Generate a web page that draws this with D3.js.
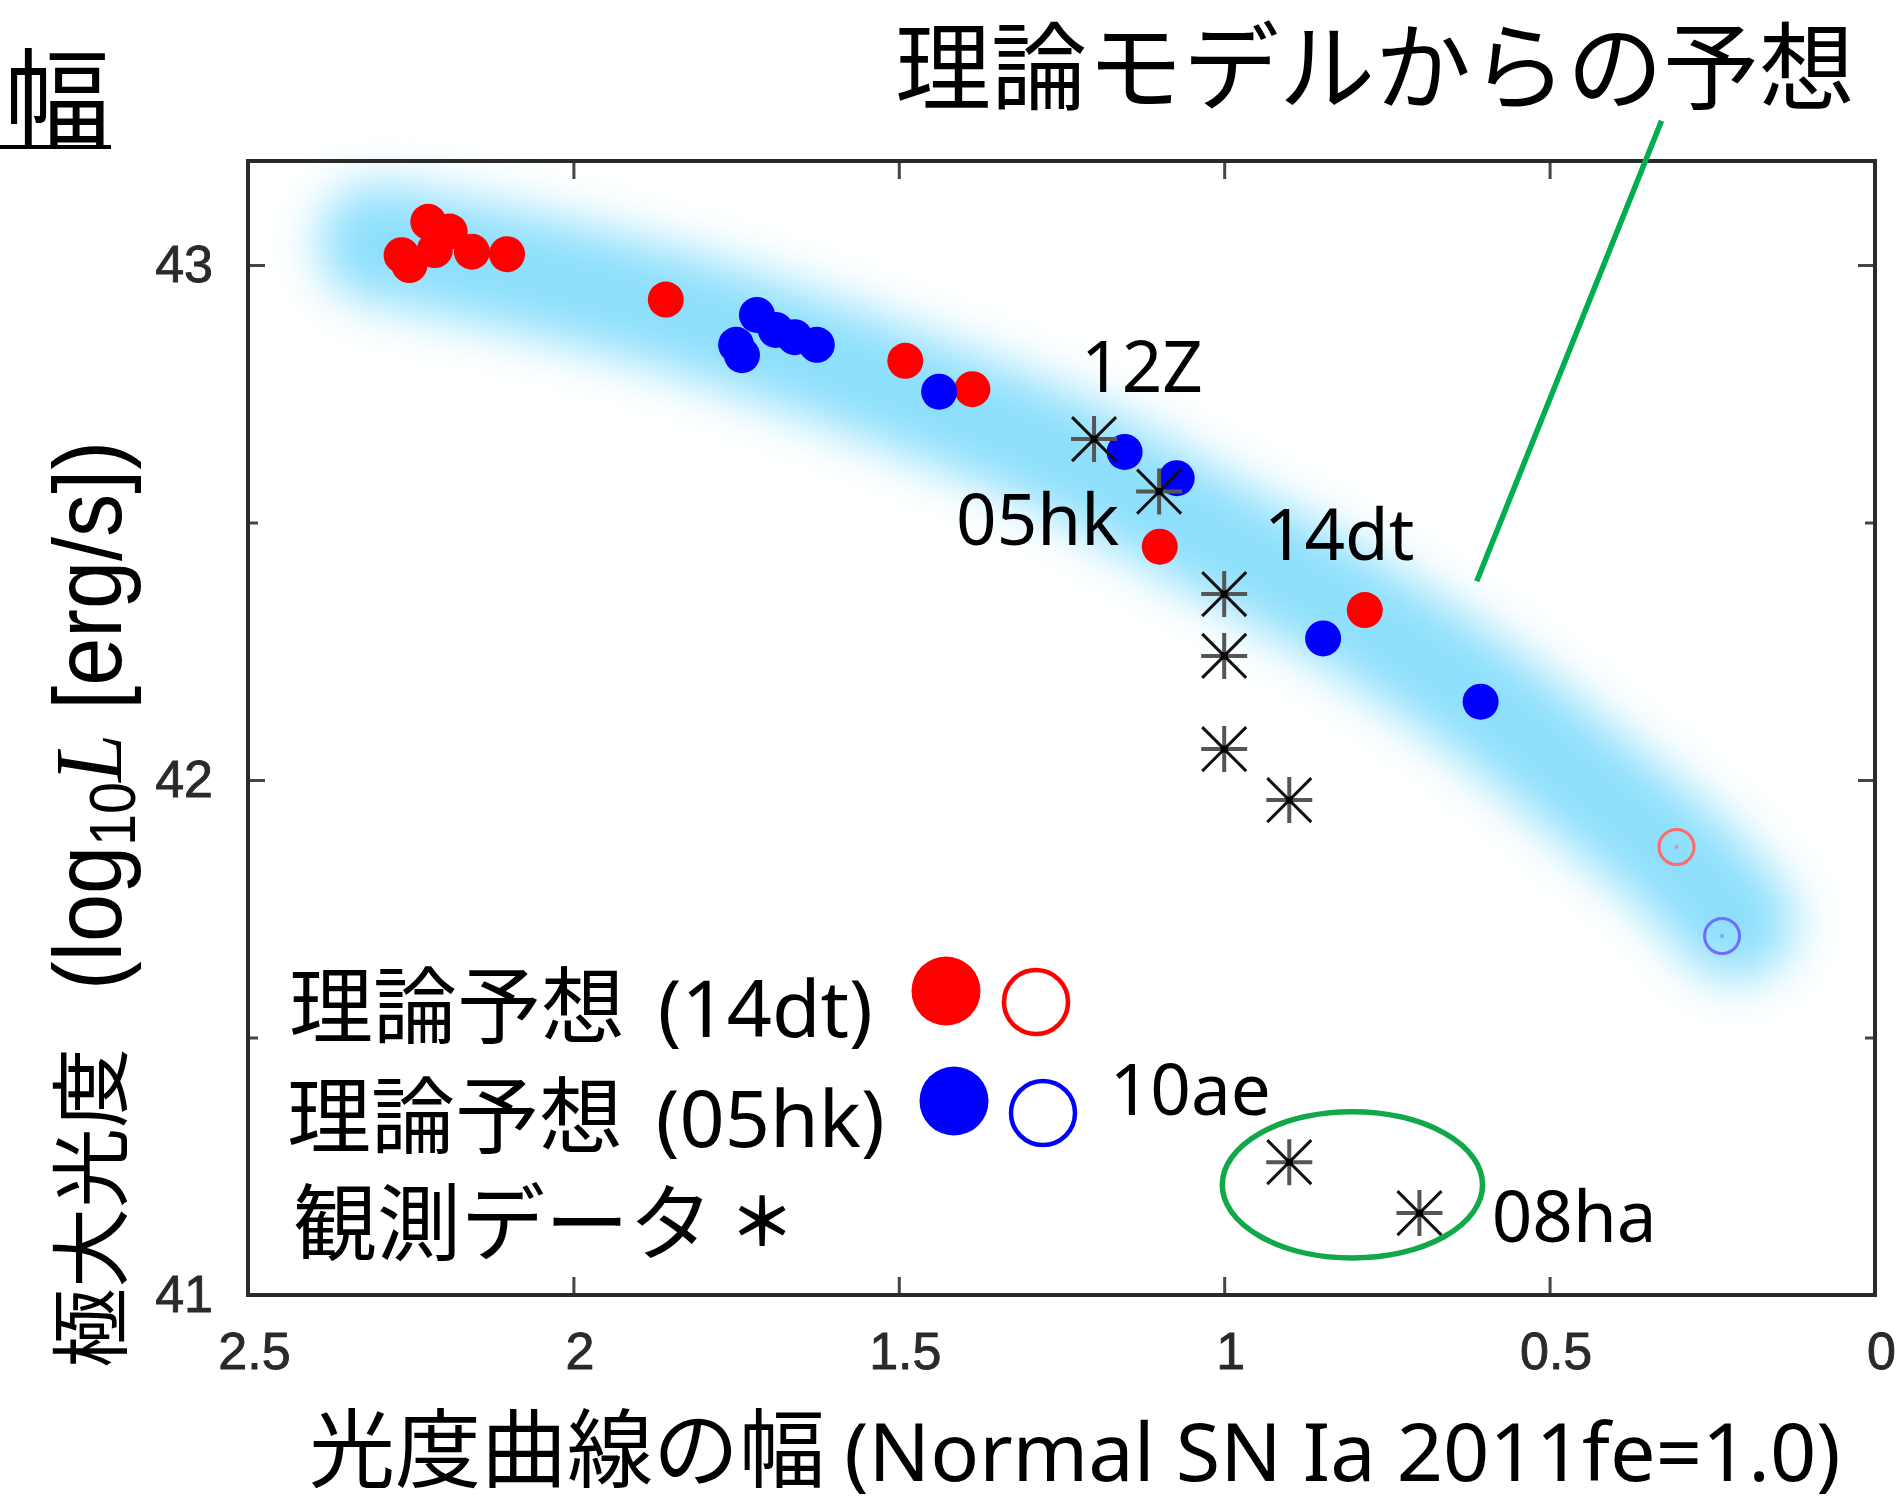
<!DOCTYPE html>
<html>
<head>
<meta charset="utf-8">
<script src="https://cdn.jsdelivr.net/npm/d3@7"></script>
<style>
  html, body { margin: 0; padding: 0; background: #ffffff; }
  svg { display: block; }
</style>
</head>
<body>
<svg id="chart" width="1903" height="1504"></svg>
<script>
// ---- data: light-curve width (2011fe = 1.0) vs. log10 peak luminosity ----

// model predictions calibrated on SN 2014dt (filled = computed, open = extrapolated)
const model14dtWidth = [2.264, 2.252, 2.223, 2.213, 2.190, 2.156, 2.102, 1.858, 1.490, 1.387, 1.099, 0.784];
const model14dtLum   = [43.019, 43.000, 43.084, 43.029, 43.065, 43.026, 43.021, 42.933, 42.814, 42.759, 42.453, 42.330];
const model14dtOpenWidth = [0.305];
const model14dtOpenLum   = [41.870];

// model predictions calibrated on SN 2005hk
const model05hkWidth = [1.750, 1.741, 1.718, 1.689, 1.660, 1.626, 1.438, 1.153, 1.073, 0.848, 0.606];
const model05hkLum   = [42.845, 42.825, 42.903, 42.874, 42.860, 42.845, 42.754, 42.637, 42.586, 42.275, 42.152];
const model05hkOpenWidth = [0.235];
const model05hkOpenLum   = [41.697];

// observed SNe Iax
const observedWidth = [1.2, 1.1, 1.0, 1.0, 1.0, 0.9, 0.9, 0.7];
const observedLum   = [42.662, 42.560, 42.361, 42.241, 42.060, 41.961, 41.258, 41.159];

// theoretical trend (drawn as a soft band)
const trendWidth = [2.300, 2.190, 1.985, 1.780, 1.479, 1.222, 1.038, 0.807, 0.603, 0.423, 0.300, 0.215];
const trendLum   = [43.043, 43.017, 42.959, 42.887, 42.751, 42.617, 42.489, 42.328, 42.155, 41.971, 41.841, 41.725];

// named objects
const snNames      = ["12Z", "05hk", "14dt", "10ae", "08ha"];
const snNameWidth  = [1.220, 1.412, 0.939, 1.176, 0.589];
const snNameLum    = [42.753, 42.456, 42.427, 41.350, 41.103];

// faint-object group (10ae, 08ha) highlighted by an ellipse
const groupCenter = [0.803, 41.214];
const groupRadius = [0.200, 0.142];

// pointer from the caption to the trend band
const pointerWidth = [0.328, 0.612];
const pointerLum   = [43.280, 42.386];

// axis ticks
const xTicks = [2.5, 2, 1.5, 1, 0.5, 0];
const xTickLabels = ["2.5", "2", "1.5", "1", "0.5", "0"];
const yTicks = [41, 42, 43];
const yTickLabels = ["41", "42", "43"];
const yMinorTicks = [41.5, 42.5];

// ---- drawing ----
const svg = d3.select("#chart");
const x = d3.scaleLinear().domain([2.5, 0]).range([248, 1875]);
const y = d3.scaleLinear().domain([41, 43.202]).range([1295, 161]);

const CJK = "'Noto Sans CJK JP', 'Noto Sans', sans-serif";
const LATIN = "'Noto Sans', 'Open Sans', sans-serif";
const TICKFONT = "'Liberation Sans', Arial, Helvetica, sans-serif";

const defs = svg.append("defs");
defs.append("filter")
  .attr("id", "haze")
  .attr("filterUnits", "userSpaceOnUse")
  .attr("x", 0).attr("y", 0).attr("width", 1903).attr("height", 1504)
  .append("feGaussianBlur").attr("stdDeviation", 24);

// trend band
svg.append("path")
  .datum(d3.zip(trendWidth, trendLum))
  .attr("d", d3.line().x(d => x(d[0])).y(d => y(d[1])).curve(d3.curveCatmullRom))
  .attr("fill", "none")
  .attr("stroke", "#8ddffc")
  .attr("stroke-width", 118)
  .attr("stroke-linecap", "round")
  .attr("stroke-linejoin", "round")
  .attr("filter", "url(#haze)");

// axes (ticks point inward on all four sides)
function styleAxis(g) {
  g.select(".domain").remove();
  g.selectAll(".tick line").attr("stroke", "#444").attr("stroke-width", 3);
  g.selectAll(".tick text")
    .attr("font-family", TICKFONT)
    .attr("font-size", 52)
    .attr("fill", "#2a2a2a")
    .attr("stroke", "#2a2a2a")
    .attr("stroke-width", 0.9);
}

svg.append("g")
  .attr("transform", `translate(0,${y.range()[0]})`)
  .call(d3.axisBottom(x).tickValues(xTicks).tickSizeInner(-18).tickSizeOuter(0)
        .tickPadding(37).tickFormat((d, i) => xTickLabels[i]))
  .call(styleAxis)
  .call(g => g.selectAll(".tick text").attr("dx", 6));

svg.append("g")
  .attr("transform", `translate(0,${y.range()[1]})`)
  .call(d3.axisTop(x).tickValues(xTicks.slice(1, -1)).tickSizeInner(-18).tickSizeOuter(0).tickFormat(""))
  .call(styleAxis);

svg.append("g")
  .attr("transform", `translate(${x.range()[0]},0)`)
  .call(d3.axisLeft(y).tickValues(yTicks).tickSizeInner(-17).tickSizeOuter(0)
        .tickPadding(35).tickFormat((d, i) => yTickLabels[i]))
  .call(styleAxis);

svg.append("g")
  .attr("transform", `translate(${x.range()[0]},0)`)
  .call(d3.axisLeft(y).tickValues(yMinorTicks).tickSizeInner(-10).tickSizeOuter(0).tickFormat(""))
  .call(styleAxis);

svg.append("g")
  .attr("transform", `translate(${x.range()[1]},0)`)
  .call(d3.axisRight(y).tickValues(yTicks.slice(1)).tickSizeInner(-17).tickSizeOuter(0).tickFormat(""))
  .call(styleAxis);

svg.append("g")
  .attr("transform", `translate(${x.range()[1]},0)`)
  .call(d3.axisRight(y).tickValues(yMinorTicks).tickSizeInner(-10).tickSizeOuter(0).tickFormat(""))
  .call(styleAxis);

// plot frame
svg.append("rect")
  .attr("x", x.range()[0]).attr("y", y.range()[1])
  .attr("width", x.range()[1] - x.range()[0])
  .attr("height", y.range()[0] - y.range()[1])
  .attr("fill", "none").attr("stroke", "#2a2a2a").attr("stroke-width", 4);

// filled model points
const marks = svg.append("g");
marks.selectAll("circle.m14")
  .data(d3.zip(model14dtWidth, model14dtLum))
  .join("circle").attr("class", "m14")
  .attr("cx", d => x(d[0])).attr("cy", d => y(d[1])).attr("r", 18)
  .attr("fill", "#ff0000");

marks.selectAll("circle.m05")
  .data(d3.zip(model05hkWidth, model05hkLum))
  .join("circle").attr("class", "m05")
  .attr("cx", d => x(d[0])).attr("cy", d => y(d[1])).attr("r", 18)
  .attr("fill", "#0000ff");

// open (extrapolated) model points
function openPoints(cls, xs, ys, color) {
  const pts = d3.zip(xs, ys);
  marks.selectAll("circle." + cls)
    .data(pts).join("circle").attr("class", cls)
    .attr("cx", d => x(d[0])).attr("cy", d => y(d[1])).attr("r", 17.5)
    .attr("fill", "none").attr("stroke", color).attr("stroke-width", 3);
  marks.selectAll("circle." + cls + "c")
    .data(pts).join("circle").attr("class", cls + "c")
    .attr("cx", d => x(d[0])).attr("cy", d => y(d[1])).attr("r", 2)
    .attr("fill", color).attr("opacity", 0.6);
}
openPoints("o14", model14dtOpenWidth, model14dtOpenLum, "#ff6a6a");
openPoints("o05", model05hkOpenWidth, model05hkOpenLum, "#6e6eff");

// observed points: 8-armed asterisks
const star = marks.selectAll("g.obs")
  .data(d3.zip(observedWidth, observedLum))
  .join("g").attr("class", "obs")
  .attr("transform", d => `translate(${x(d[0])},${y(d[1])})`);
star.append("path")
  .attr("d", "M-23,0H23M0,-23V23")
  .attr("stroke", "#555").attr("stroke-width", 4).attr("fill", "none");
star.append("path")
  .attr("d", "M-22,-22L22,22M-22,22L22,-22")
  .attr("stroke", "#111").attr("stroke-width", 3).attr("fill", "none");
star.append("rect")
  .attr("x", -3.5).attr("y", -3.5).attr("width", 7).attr("height", 7).attr("fill", "#000");

// object names
svg.append("g").selectAll("text")
  .data(snNames)
  .join("text")
  .attr("x", (d, i) => x(snNameWidth[i]))
  .attr("y", (d, i) => y(snNameLum[i]))
  .attr("font-family", LATIN)
  .attr("font-size", 71)
  .attr("fill", "#000")
  .text(d => d);

// ellipse around the faint group
svg.append("ellipse")
  .attr("cx", x(groupCenter[0])).attr("cy", y(groupCenter[1]))
  .attr("rx", Math.abs(x(groupCenter[0] + groupRadius[0]) - x(groupCenter[0])))
  .attr("ry", Math.abs(y(groupCenter[1] + groupRadius[1]) - y(groupCenter[1])))
  .attr("fill", "none").attr("stroke", "#12a84a").attr("stroke-width", 5.5);

// pointer line from the caption
svg.append("line")
  .attr("x1", x(pointerWidth[0])).attr("y1", y(pointerLum[0]))
  .attr("x2", x(pointerWidth[1])).attr("y2", y(pointerLum[1]))
  .attr("stroke", "#00ad4f").attr("stroke-width", 5.5);

// caption and heading
svg.append("text")
  .attr("x", 895).attr("y", 102)
  .attr("font-family", CJK).attr("font-size", 96).attr("fill", "#000")
  .text("理論モデルからの予想");

svg.append("text")
  .attr("x", 4).attr("y", 137)
  .attr("font-family", CJK).attr("font-size", 106).attr("fill", "#000")
  .text("幅");
svg.append("rect")
  .attr("x", 0).attr("y", 145).attr("width", 111).attr("height", 4).attr("fill", "#000");

// legend
const legend = svg.append("g");
const legendRows = [
  { label: "理論予想 ", tag: "(14dt)", y: 1037, x: 289, color: "#ff0000", dot: [946, 991], ring: [1036, 1002] },
  { label: "理論予想 ", tag: "(05hk)", y: 1147, x: 287, color: "#0000ff", dot: [954, 1101], ring: [1043, 1113] }
];
legendRows.forEach(r => {
  const t = legend.append("text")
    .attr("x", r.x).attr("y", r.y)
    .attr("font-family", CJK).attr("font-size", 84).attr("fill", "#000");
  t.append("tspan").text(r.label);
  t.append("tspan").attr("font-family", LATIN).attr("font-size", 79).attr("dx", 14).text(r.tag);
  legend.append("circle").attr("cx", r.dot[0]).attr("cy", r.dot[1]).attr("r", 34.5).attr("fill", r.color);
  legend.append("circle").attr("cx", r.ring[0]).attr("cy", r.ring[1]).attr("r", 32)
    .attr("fill", "none").attr("stroke", r.color).attr("stroke-width", 4.5);
});
legend.append("text")
  .attr("x", 293).attr("y", 1254)
  .attr("font-family", CJK).attr("font-size", 84).attr("fill", "#000")
  .text("観測データ");
legend.append("text")
  .attr("x", 762).attr("y", 1246)
  .attr("text-anchor", "middle")
  .attr("font-family", CJK).attr("font-size", 66).attr("font-weight", 700).attr("fill", "#000")
  .text("＊");

// axis titles
const xTitle = svg.append("text")
  .attr("x", 309).attr("y", 1481)
  .attr("font-family", CJK).attr("font-size", 86).attr("fill", "#000");
xTitle.append("tspan").text("光度曲線の幅 ");
xTitle.append("tspan").attr("font-family", LATIN).attr("font-size", 81).text("(Normal SN Ia 2011fe=1.0)");

svg.append("text")
  .attr("transform", "translate(120,1368) rotate(-90)")
  .attr("font-family", CJK).attr("font-size", 80).attr("fill", "#000")
  .text("極大光度");

const yTitle = svg.append("text")
  .attr("transform", "translate(121,990) rotate(-90) scale(0.9,1)")
  .attr("font-family", TICKFONT).attr("font-size", 96).attr("fill", "#000");
yTitle.append("tspan").text("(log");
yTitle.append("tspan").attr("font-size", 64).attr("dy", 14).text("10");
yTitle.append("tspan").attr("dy", -14).attr("font-family", "'Liberation Serif', 'DejaVu Serif', serif")
  .attr("font-style", "italic").text("L");
yTitle.append("tspan").text(" [erg/s])");
</script>
</body>
</html>
